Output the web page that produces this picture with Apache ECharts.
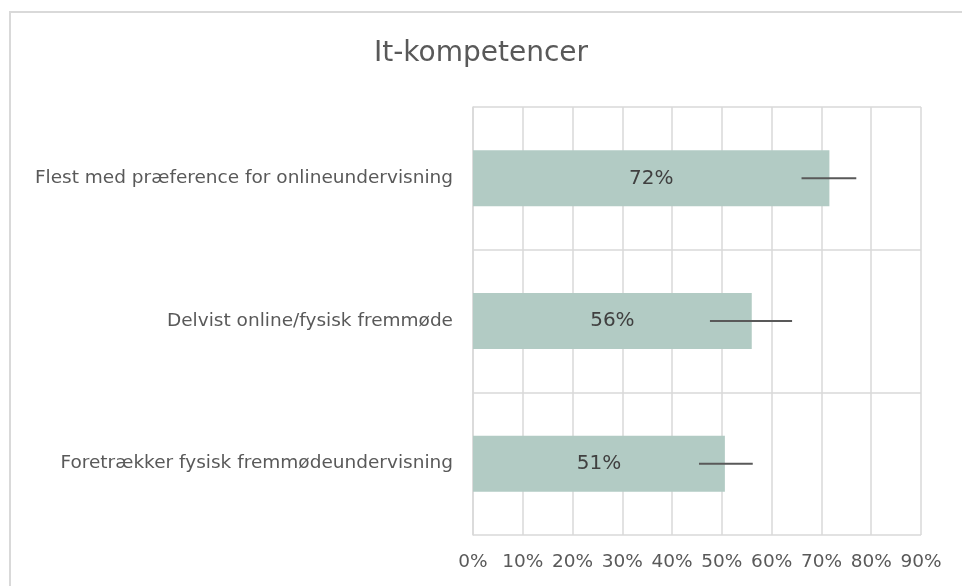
<!DOCTYPE html>
<html>
  <head>
    <meta charset="utf-8" />
    <title>It-kompetencer</title>
    <script src="https://cdn.jsdelivr.net/npm/echarts@6/dist/echarts.min.js"></script>
    <style>
      html, body { margin: 0; padding: 0; background: #fff; }
    </style>
  </head>
  <body>
    <div id="main" style="width: 962px;height:586px;"></div>
    <script type="text/javascript">
      // data
      var categories = [
        'Flest med præference for onlineundervisning',
        'Delvist online/fysisk fremmøde',
        'Foretrækker fysisk fremmødeundervisning'
      ];
      var shares = [0.716, 0.56, 0.506];
      var errLow = [0.66, 0.476, 0.454];
      var errHigh = [0.77, 0.641, 0.562];
      var xTicks = [0, 0.1, 0.2, 0.3, 0.4, 0.5, 0.6, 0.7, 0.8, 0.9];

      var font = 'DejaVu Sans';
      var errData = [];
      for (var i = 0; i < categories.length; i++) {
        errData.push([i, errLow[i], errHigh[i]]);
      }

      var myChart = echarts.init(document.getElementById('main'));
      var option = {
        backgroundColor: '#fff',
        animation: false,
        textStyle: { fontFamily: font },
        graphic: [{
          type: 'rect',
          shape: { x: 10, y: 12, width: 1000, height: 700 },
          style: { fill: 'none', stroke: '#d9d9d9', lineWidth: 2 }
        }],
        title: {
          text: 'It-kompetencer',
          left: 'center',
          top: 35,
          textStyle: { fontFamily: font, fontSize: 28, fontWeight: 'normal', color: '#595959' }
        },
        grid: { left: 473, right: 41, top: 107, bottom: 51 },
        xAxis: {
          type: 'value',
          min: xTicks[0],
          max: xTicks[xTicks.length - 1],
          interval: 0.1,
          axisLine: { show: false },
          axisTick: { show: false },
          splitLine: { lineStyle: { color: '#d9d9d9', width: 1.5 } },
          axisLabel: {
            color: '#595959',
            fontSize: 18.5,
            margin: 18,
            formatter: function (v) { return Math.round(v * 100) + '%'; }
          }
        },
        yAxis: {
          type: 'category',
          inverse: true,
          data: categories,
          axisLine: { lineStyle: { color: '#d9d9d9', width: 1.5 } },
          axisTick: { show: false },
          splitLine: { show: true, lineStyle: { color: '#d9d9d9', width: 1.5 } },
          axisLabel: { color: '#595959', fontSize: 18.5, margin: 20 }
        },
        series: [
          {
            type: 'bar',
            data: shares,
            barWidth: 56,
            itemStyle: { color: '#b2cbc4' },
            label: {
              show: true,
              position: 'inside',
              color: '#404040',
              fontSize: 20,
              formatter: function (p) { return Math.round(p.value * 100) + '%'; }
            }
          },
          {
            type: 'custom',
            data: errData,
            encode: { y: 0, x: [1, 2] },
            z: 5,
            renderItem: function (params, api) {
              var a = api.coord([api.value(1), api.value(0)]);
              var b = api.coord([api.value(2), api.value(0)]);
              return {
                type: 'line',
                shape: { x1: a[0], y1: a[1], x2: b[0], y2: b[1] },
                style: { stroke: '#595959', lineWidth: 2 }
              };
            }
          }
        ]
      };
      myChart.setOption(option);
    </script>
  </body>
</html>
